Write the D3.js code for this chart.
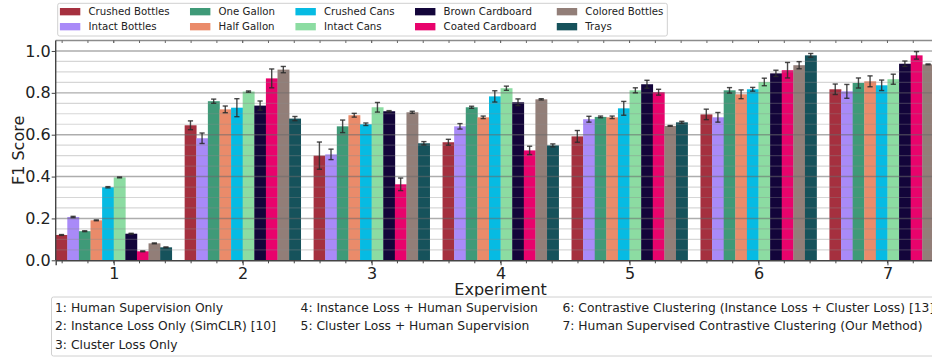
<!DOCTYPE html>
<html>
<head>
<meta charset="utf-8">
<script src="https://cdn.jsdelivr.net/npm/d3@7"></script>
<style>
body { margin: 0; background: #fff; }
svg { display: block; font-family: "DejaVu Sans", sans-serif; }
</style>
</head>
<body>
<svg id="chart" width="932" height="358"></svg>
<script>
// experiments on the x axis
var experiments = [1, 2, 3, 4, 5, 6, 7];

var materials = ["Crushed Bottles", "Intact Bottles", "One Gallon", "Half Gallon", "Crushed Cans",
                 "Intact Cans", "Brown Cardboard", "Coated Cardboard", "Colored Bottles", "Trays"];
var materialColors = ["#a5303f", "#a98af8", "#3f9a78", "#ea8b6a", "#06bbe3",
                      "#8cdca2", "#13053a", "#e8036c", "#927e78", "#16525b"];

// F1 score per material, one value per experiment, plus error (half length)
var crushedBottles     = [0.121, 0.645, 0.500, 0.564, 0.592, 0.697, 0.817];
var crushedBottlesErr  = [0.002, 0.021, 0.065, 0.014, 0.028, 0.025, 0.025];
var intactBottles      = [0.207, 0.583, 0.506, 0.640, 0.674, 0.683, 0.807];
var intactBottlesErr   = [0.003, 0.025, 0.025, 0.013, 0.014, 0.023, 0.033];
var oneGallon          = [0.139, 0.760, 0.640, 0.731, 0.685, 0.812, 0.847];
var oneGallonErr       = [0.002, 0.010, 0.030, 0.005, 0.004, 0.013, 0.024];
var halfGallon         = [0.191, 0.721, 0.693, 0.683, 0.683, 0.793, 0.855];
var halfGallonErr      = [0.002, 0.016, 0.009, 0.006, 0.006, 0.021, 0.026];
var crushedCans        = [0.349, 0.729, 0.650, 0.783, 0.726, 0.817, 0.836];
var crushedCansErr     = [0.003, 0.043, 0.006, 0.027, 0.033, 0.009, 0.025];
var intactCans         = [0.396, 0.806, 0.731, 0.822, 0.812, 0.852, 0.865];
var intactCansErr      = [0.002, 0.003, 0.023, 0.010, 0.012, 0.018, 0.024];
var brownCardboard     = [0.127, 0.739, 0.712, 0.755, 0.841, 0.893, 0.939];
var brownCardboardErr  = [0.002, 0.022, 0.003, 0.016, 0.019, 0.015, 0.013];
var coatedCardboard    = [0.043, 0.869, 0.363, 0.525, 0.803, 0.908, 0.979];
var coatedCardboardErr = [0.002, 0.045, 0.030, 0.020, 0.014, 0.037, 0.018];
var coloredBottles     = [0.081, 0.911, 0.707, 0.769, 0.642, 0.932, 0.936];
var coloredBottlesErr  = [0.002, 0.015, 0.005, 0.003, 0.002, 0.017, 0.002];
var trays              = [0.062, 0.677, 0.559, 0.549, 0.659, 0.979, 0.950];
var traysErr           = [0.002, 0.010, 0.008, 0.007, 0.005, 0.009, 0.010];

var yTickValues = [0.0, 0.2, 0.4, 0.6, 0.8, 1.0];

var descriptions = [
    "1: Human Supervision Only",
    "2: Instance Loss Only (SimCLR) [10]",
    "3: Cluster Loss Only",
    "4: Instance Loss + Human Supervision",
    "5: Cluster Loss + Human Supervision",
    "6: Contrastive Clustering (Instance Loss + Cluster Loss) [13]",
    "7: Human Supervised Contrastive Clustering (Our Method)"
];

var allScores = [crushedBottles, intactBottles, oneGallon, halfGallon, crushedCans,
                 intactCans, brownCardboard, coatedCardboard, coloredBottles, trays];
var allErrs = [crushedBottlesErr, intactBottlesErr, oneGallonErr, halfGallonErr, crushedCansErr,
               intactCansErr, brownCardboardErr, coatedCardboardErr, coloredBottlesErr, traysErr];

var svg = d3.select("#chart"),
    plotLeft = 55.7, plotRight = 945.5,
    plotTop = 40.5, plotBottom = 260.3,
    barW = 0.09;

var x = d3.scaleLinear().domain([0.55, 7.45]).range([plotLeft, plotRight]);
var y = d3.scaleLinear().domain([0, 1.05]).range([plotBottom, plotTop]);

var bars = [];
allScores.forEach(function(series, k) {
    series.forEach(function(v, i) {
        bars.push({exp: experiments[i], k: k, value: v, err: allErrs[k][i]});
    });
});

function barX(d) { return x(d.exp - 0.45 + d.k * barW); }
var barPx = x(barW) - x(0);

// bars
svg.append("g")
    .selectAll("rect")
    .data(bars)
    .enter().append("rect")
    .attr("x", barX)
    .attr("y", function(d) { return y(d.value); })
    .attr("width", barPx + 0.3)
    .attr("height", function(d) { return y(0) - y(d.value); })
    .attr("fill", function(d) { return materialColors[d.k]; });

// grid (drawn above the bars like in the original)
var minorGrid = d3.range(0.05, 1.05, 0.05).filter(function(v) {
    return Math.abs(v / 0.2 - Math.round(v / 0.2)) > 0.01;
});
svg.append("g")
    .selectAll("line")
    .data(minorGrid)
    .enter().append("line")
    .attr("x1", plotLeft).attr("x2", plotRight)
    .attr("y1", function(d) { return y(d); })
    .attr("y2", function(d) { return y(d); })
    .attr("stroke", "#8a8a8a").attr("stroke-opacity", 0.35).attr("stroke-width", 1.2);
svg.append("g")
    .selectAll("line")
    .data(yTickValues.slice(1))
    .enter().append("line")
    .attr("x1", plotLeft).attr("x2", plotRight)
    .attr("y1", function(d) { return y(d); })
    .attr("y2", function(d) { return y(d); })
    .attr("stroke", "#6a6a6a").attr("stroke-opacity", 0.55).attr("stroke-width", 1.4);

// error bars
var eb = svg.append("g")
    .attr("stroke", "#2a2a2a")
    .attr("stroke-opacity", 0.85)
    .attr("stroke-width", 1.4)
    .selectAll("g")
    .data(bars)
    .enter().append("g");
eb.append("line")
    .attr("x1", function(d) { return barX(d) + barPx / 2; })
    .attr("x2", function(d) { return barX(d) + barPx / 2; })
    .attr("y1", function(d) { return y(d.value - d.err); })
    .attr("y2", function(d) { return y(d.value + d.err); });
[-1, 1].forEach(function(s) {
    eb.append("line")
        .attr("x1", function(d) { return barX(d) + barPx / 2 - 2.6; })
        .attr("x2", function(d) { return barX(d) + barPx / 2 + 2.6; })
        .attr("y1", function(d) { return y(d.value + s * d.err); })
        .attr("y2", function(d) { return y(d.value + s * d.err); });
});

// frame
svg.append("line")
    .attr("x1", plotLeft).attr("x2", plotRight)
    .attr("y1", plotTop).attr("y2", plotTop)
    .attr("stroke", "#8c8c8c").attr("stroke-width", 1.3);

// x axis with minor ticks
var minorX = d3.range(0.6, 7.45, 0.2);
var xAxis = d3.axisBottom(x)
    .tickValues(experiments)
    .tickFormat(d3.format("d"))
    .tickSize(5)
    .tickPadding(2);
var gx = svg.append("g")
    .attr("transform", "translate(0," + plotBottom + ")")
    .call(xAxis);
gx.select(".domain").attr("stroke", "#444").attr("stroke-width", 1.4);
gx.selectAll(".tick line").attr("stroke", "#444");
gx.selectAll(".tick text").attr("font-size", 16).attr("fill", "#222")
    .attr("font-family", "DejaVu Sans, sans-serif");
gx.append("g").selectAll("line")
    .data(minorX)
    .enter().append("line")
    .attr("x1", function(d) { return x(d); })
    .attr("x2", function(d) { return x(d); })
    .attr("y1", 0).attr("y2", 3)
    .attr("stroke", "#444");

// top ticks
svg.append("g").selectAll("line")
    .data(minorX.concat(experiments))
    .enter().append("line")
    .attr("x1", function(d) { return x(d); })
    .attr("x2", function(d) { return x(d); })
    .attr("y1", plotTop).attr("y2", plotTop + 2.5)
    .attr("stroke", "#666");

// y axis
var yAxis = d3.axisLeft(y)
    .tickValues(yTickValues)
    .tickFormat(d3.format(".1f"))
    .tickSize(4)
    .tickPadding(1);
var gy = svg.append("g")
    .attr("transform", "translate(" + plotLeft + ",0)")
    .call(yAxis);
gy.select(".domain").attr("stroke", "#444").attr("stroke-width", 1.4)
    .attr("d", "M0," + plotBottom + "V" + plotTop);
gy.selectAll(".tick line").attr("stroke", "#444");
gy.selectAll(".tick text").attr("font-size", 16).attr("fill", "#222")
    .attr("font-family", "DejaVu Sans, sans-serif");

// axis titles
svg.append("text")
    .attr("transform", "translate(24," + ((plotTop + plotBottom) / 2) + ") rotate(-90)")
    .attr("text-anchor", "middle")
    .attr("font-size", 16)
    .attr("fill", "#222")
    .text("F1 Score");
svg.append("text")
    .attr("x", (plotLeft + plotRight) / 2)
    .attr("y", 294.5)
    .attr("text-anchor", "middle")
    .attr("font-size", 16)
    .attr("fill", "#222")
    .text("Experiment");

// top legend: 5 columns x 2 rows, column-major
var legFont = 10.2,
    legBox = svg.append("rect")
        .attr("x", 57.7).attr("y", 3.3).attr("rx", 2)
        .attr("height", 32.7)
        .attr("fill", "#fff").attr("stroke", "#d0d0d0").attr("stroke-width", 1),
    leg = svg.append("g").attr("font-size", legFont).attr("fill", "#222");
var colX = 59.9, rowY = [11.7, 26.7], legEnd = 0;
for (var c = 0; c < 5; c++) {
    var maxW = 0;
    for (var r = 0; r < 2; r++) {
        var k = c * 2 + r;
        leg.append("rect")
            .attr("x", colX).attr("y", rowY[r] - 3.7)
            .attr("width", 2 * legFont).attr("height", 0.72 * legFont)
            .attr("fill", materialColors[k]);
        var t = leg.append("text")
            .attr("x", colX + 2.8 * legFont)
            .attr("y", rowY[r])
            .attr("dy", "0.35em")
            .text(materials[k]);
        maxW = Math.max(maxW, t.node().getComputedTextLength());
    }
    legEnd = colX + 2.8 * legFont + maxW;
    colX = legEnd + 2 * legFont;
}
legBox.attr("width", legEnd + 4 - 57.7);

// bottom description box: 3 columns, column-major
var descFont = 12.3,
    descCols = [[0, 1, 2], [3, 4], [5, 6]],
    descRows = [311.5, 330, 348.5];
svg.append("rect")
    .attr("x", 51.5).attr("y", 297).attr("rx", 2)
    .attr("width", 1000).attr("height", 59)
    .attr("fill", "#fff").attr("stroke", "#d0d0d0").attr("stroke-width", 1);
var desc = svg.append("g").attr("font-size", descFont).attr("fill", "#222");
var dx = 55;
descCols.forEach(function(col) {
    var w = 0;
    col.forEach(function(idx, r) {
        var t = desc.append("text")
            .attr("x", dx).attr("y", descRows[r])
            .text(descriptions[idx]);
        w = Math.max(w, t.node().getComputedTextLength());
    });
    dx += w + 2 * descFont;
});
</script>
</body>
</html>
